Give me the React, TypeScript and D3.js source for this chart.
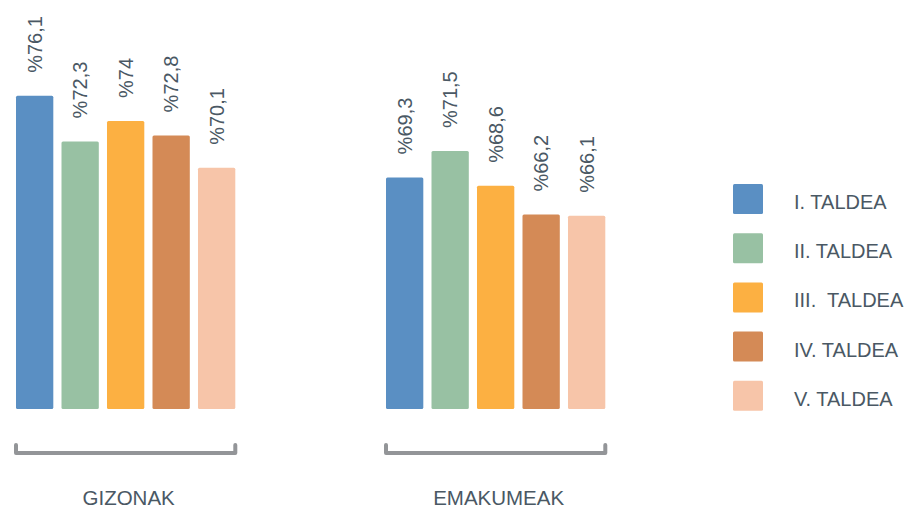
import React from "react";
import * as d3 from "d3";

const groups = ["GIZONAK", "EMAKUMEAK"];
const series = ["I. TALDEA", "II. TALDEA", "III.  TALDEA", "IV. TALDEA", "V. TALDEA"];
const gizonak = [76.1, 72.3, 74, 72.8, 70.1];
const emakumeak = [69.3, 71.5, 68.6, 66.2, 66.1];
const colors = ["#5A8FC3", "#98C1A3", "#FCB042", "#D48A56", "#F7C5A9"];

const W = 904;
const H = 508;
const textColor = "#4A5864";

export default function App() {
  const values = [gizonak, emakumeak];
  const y = d3.scaleLinear().domain([50, 76.1]).range([409, 95.8]);
  const gx = d3.scaleBand().domain(groups).range([16, 16 + 370 * 2]).paddingInner(0).paddingOuter(0);
  const bx = d3.scaleBand().domain(series).range([0, 219.3]).paddingInner(0.18).paddingOuter(0);
  const fmt = (v: number) => "%" + String(v).replace(".", ",");

  return (
    <svg width={W} height={H} style={{ display: "block", position: "absolute", left: 0, top: 0 }}
      fontFamily="'Liberation Sans', Arial, sans-serif">
      <rect width={W} height={H} fill="#fff" />
      {groups.map((g, gi) => {
        const x0 = gx(g)!;
        const left = x0 + bx(series[0])!;
        const right = x0 + bx(series[4])! + bx.bandwidth();
        return (
          <g key={g}>
            {values[gi].map((v, i) => {
              const bxs = x0 + bx(series[i])!;
              const cx = bxs + bx.bandwidth() / 2;
              const top = y(v);
              return (
                <g key={i}>
                  <rect x={bxs} y={top} width={bx.bandwidth()} height={y(50) - top}
                    rx={1.5} fill={colors[i]} />
                  <text transform={`translate(${cx},${top - 23}) rotate(-90)`} dy="0.35em"
                    fontSize={20} fill={textColor}>{fmt(v)}</text>
                </g>
              );
            })}
            <path d={`M${left},445 V453 H${right} V445`} fill="none" stroke="#939598"
              strokeWidth={4} strokeLinejoin="round" strokeLinecap="round" />
            <text x={(left + right) / 2 + 3} y={505} textAnchor="middle" fontSize={20.5}
              fill={textColor}>{g}</text>
          </g>
        );
      })}
      {series.map((s, i) => {
        const top = 184 + i * 49.2;
        return (
          <g key={s}>
            <rect x={733} y={top} width={30} height={30} rx={1.5} fill={colors[i]} />
            <text x={794} y={top + 18} dy="0.35em" fontSize={20} fill={textColor}
              style={{ whiteSpace: "pre" }}>{s}</text>
          </g>
        );
      })}
    </svg>
  );
}
